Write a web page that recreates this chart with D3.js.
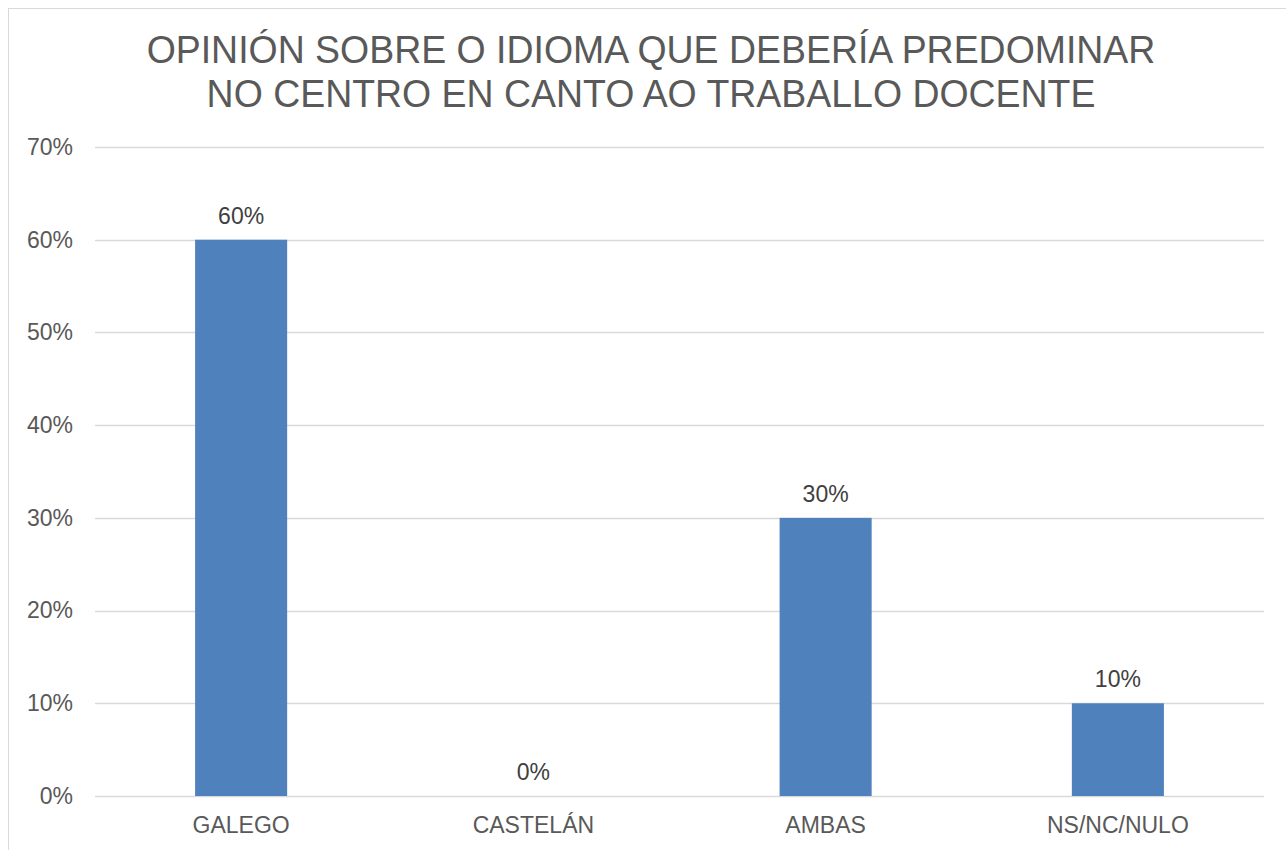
<!DOCTYPE html>
<html>
<head>
<meta charset="utf-8">
<script src="https://cdn.jsdelivr.net/npm/d3@7"></script>
<style>
  body { margin: 0; background: #fff; }
  svg { font-family: "Liberation Sans", Arial, sans-serif; }
</style>
</head>
<body>
<script>
var categories = ["GALEGO", "CASTELÁN", "AMBAS", "NS/NC/NULO"];
var values = [0.60, 0.00, 0.30, 0.10];
var yTicks = [0, 0.1, 0.2, 0.3, 0.4, 0.5, 0.6, 0.7];
var titleLines = ["OPINIÓN SOBRE O IDIOMA QUE DEBERÍA PREDOMINAR", "NO CENTRO EN CANTO AO TRABALLO DOCENTE"];

var width = 1286, height = 850;
var margin = { left: 95, right: 22, top: 147, bottom: 54 };

var svg = d3.select("body").append("svg")
  .attr("width", width)
  .attr("height", height);

// chart frame
svg.append("rect")
  .attr("x", 8.5).attr("y", 8.5)
  .attr("width", width + 20).attr("height", height + 20)
  .attr("fill", "none")
  .attr("stroke", "#d9d9d9")
  .attr("stroke-width", 1);

var x = d3.scaleBand()
  .domain(categories)
  .range([margin.left, width - margin.right])
  .paddingInner(0.685)
  .paddingOuter(0.3425);

var y = d3.scaleLinear()
  .domain([0, 0.7])
  .range([height - margin.bottom, margin.top]);

var fmt = d3.format(".0%");

// gridlines
svg.append("g")
  .selectAll("line")
  .data(yTicks)
  .enter().append("line")
  .attr("x1", margin.left)
  .attr("x2", width - margin.right)
  .attr("y1", function (d) { return Math.round(y(d)) + 0.5; })
  .attr("y2", function (d) { return Math.round(y(d)) + 0.5; })
  .attr("stroke", "#d9d9d9")
  .attr("stroke-width", 1.5);

// y axis labels
var yAxis = d3.axisLeft(y).tickValues(yTicks).tickFormat(fmt).tickSize(0).tickPadding(22);
var gy = svg.append("g")
  .attr("transform", "translate(" + margin.left + ",0)")
  .call(yAxis);
gy.select(".domain").remove();
gy.selectAll("text")
  .attr("fill", "#595959")
  .style("font-size", "23px");

// bars
svg.append("g")
  .selectAll("rect")
  .data(values)
  .enter().append("rect")
  .attr("x", function (d, i) { return x(categories[i]); })
  .attr("y", function (d) { return y(d); })
  .attr("width", x.bandwidth())
  .attr("height", function (d) { return y(0) - y(d); })
  .attr("fill", "#4f81bd");

// value labels
svg.append("g")
  .selectAll("text")
  .data(values)
  .enter().append("text")
  .attr("x", function (d, i) { return x(categories[i]) + x.bandwidth() / 2; })
  .attr("y", function (d) { return y(d) - 16; })
  .attr("text-anchor", "middle")
  .attr("fill", "#404040")
  .style("font-size", "23px")
  .text(function (d) { return fmt(d); });

// x axis labels
var xAxis = d3.axisBottom(x).tickSize(0).tickPadding(21);
var gx = svg.append("g")
  .attr("transform", "translate(0," + (height - margin.bottom) + ")")
  .call(xAxis);
gx.select(".domain").remove();
gx.selectAll("text")
  .attr("fill", "#595959")
  .style("font-size", "23px");

// title (slightly condensed like the original rendering)
svg.append("g")
  .attr("transform", "translate(651,0) scale(0.96,1)")
  .selectAll("text")
  .data(titleLines)
  .enter().append("text")
  .attr("x", 0)
  .attr("y", function (d, i) { return 63 + i * 44; })
  .attr("text-anchor", "middle")
  .attr("fill", "#595959")
  .style("font-size", "39px")
  .text(function (d) { return d; });
</script>
</body>
</html>
